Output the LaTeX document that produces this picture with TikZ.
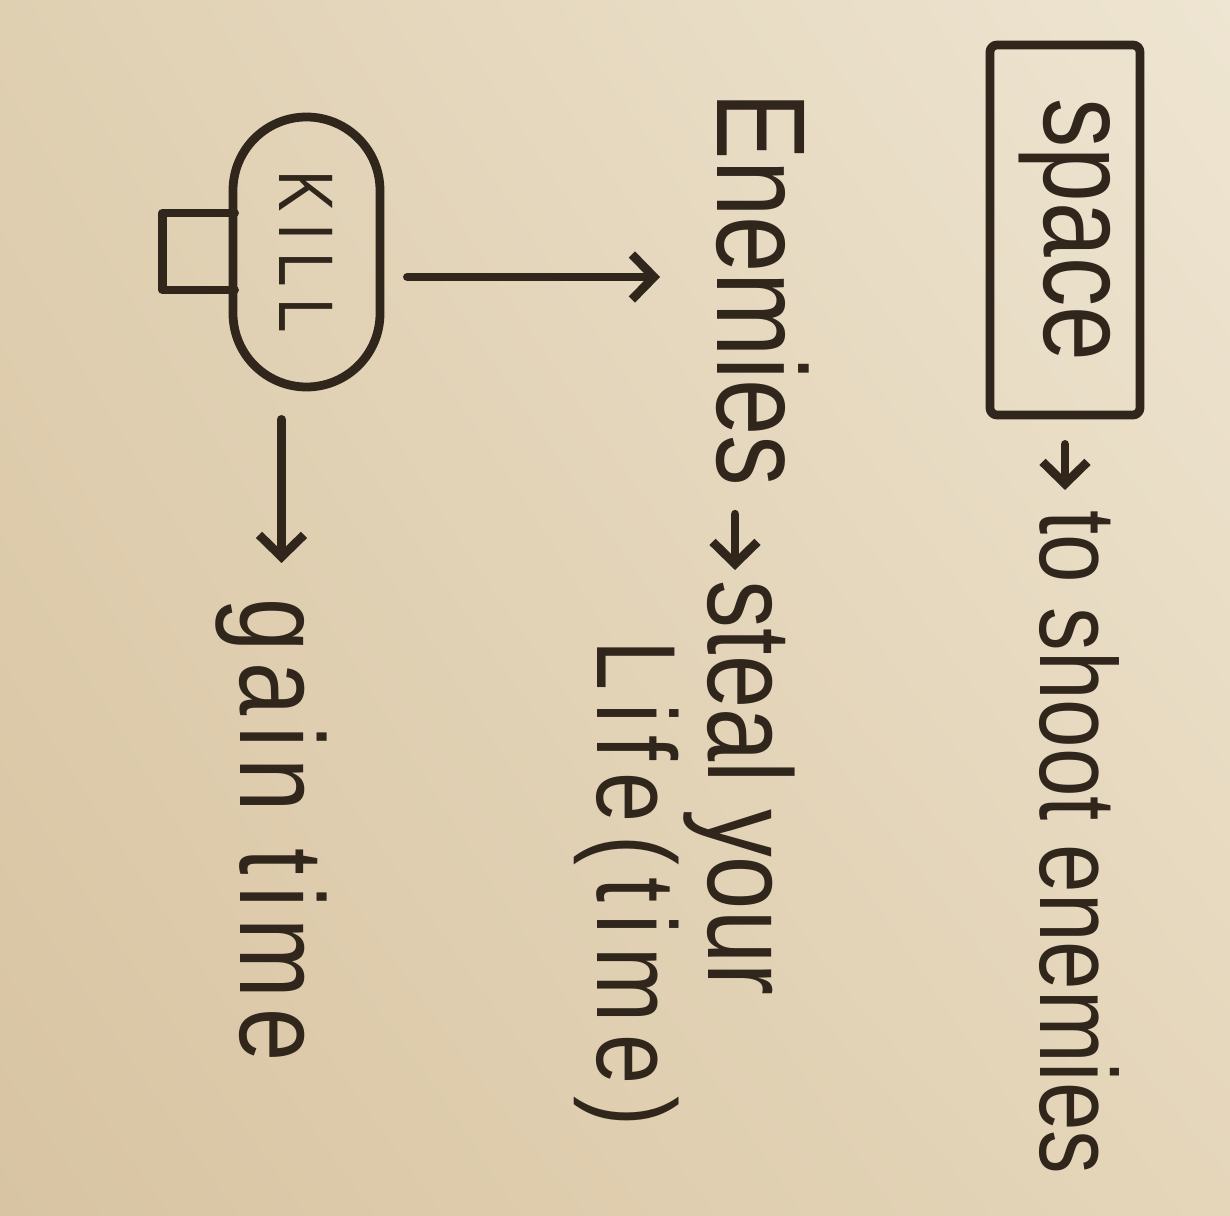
\documentclass[tikz,border=0pt]{standalone}
\usepackage{fontspec}
\setmainfont[FakeStretch=0.8]{Liberation Sans}
\usepackage{tikz}
\usetikzlibrary{arrows.meta,calc,shapes.misc,shadings}
\definecolor{ink}{RGB}{48,38,28}
\definecolor{paperul}{RGB}{224,208,178}
\definecolor{paperur}{RGB}{238,229,210}
\definecolor{paperll}{RGB}{216,196,162}
\definecolor{paperlr}{RGB}{229,214,186}

\begin{document}
\begin{tikzpicture}[>={Straight Barb[length=2.2mm,width=4.5mm]},
 txt/.style={rotate=-90,anchor=base west,inner sep=0pt,text=ink},
 hand/.style={draw=ink,line width=2.5pt,line cap=round,line join=round},
 keybox/.style={hand,rotate=-90,rounded corners=2pt,minimum width=3.7cm,minimum height=1.5cm,inner sep=0pt,text=ink}]
\shade[upper left=paperul,upper right=paperur,lower left=paperll,lower right=paperlr] (0,0) rectangle (12.3,-12.16);
\useasboundingbox (0,0) rectangle (12.3,-12.16);
\node[keybox,font=\fontsize{35}{40}\selectfont] (space) at (10.65,-2.30) {space};
\node[txt,font=\fontsize{31}{36}\selectfont] (shoot) at (10.40,-5.10) {to shoot enemies};
\node[txt,font=\fontsize{36}{40}\selectfont] (enemies) at (7.17,-0.92) {Enemies};
\node[txt,font=\fontsize{34}{40}\selectfont] (steal) at (7.08,-5.80) {steal your};
\node[txt,font=\fontsize{32}{36}\selectfont\addfontfeatures{LetterSpace=11}] (life) at (5.97,-6.40) {Life(time)};
\node[hand,rounded rectangle,rotate=-90,minimum width=2.7cm,minimum height=1.47cm,inner sep=0pt,text=ink,font=\fontsize{22}{26}\selectfont\addfontfeatures{LetterSpace=15}] (kill) at (3.065,-2.52) {KILL};
\draw[hand] ([shift={(0.06,0.39)}]kill.south) -- ++(-0.72,0) -- ++(0,-0.77) -- ++(0.72,0);
\node[txt,font=\fontsize{34}{38}\selectfont\addfontfeatures{LetterSpace=9}] (gain) at (2.40,-5.98) {gain time};
\draw[hand,->,shorten <=0.25cm,shorten >=0.2cm] (space.east) -- (space.east |- shoot.west);
\draw[hand,->,shorten <=0.27cm,shorten >=0.1cm] ([xshift=0.18cm]enemies.base east) -- ([xshift=0.18cm]enemies.base east |- steal.west);
\draw[hand,->,shorten <=0.23cm,shorten >=0.55cm] ([yshift=-0.25cm]kill.north) -- ([yshift=-0.25cm]kill.north -| enemies.south);
\draw[hand,->,shorten <=0.28cm,shorten >=0.35cm] ([xshift=-0.25cm]kill.east) -- ([xshift=-0.25cm]kill.east |- gain.west);
\end{tikzpicture}
\end{document}
